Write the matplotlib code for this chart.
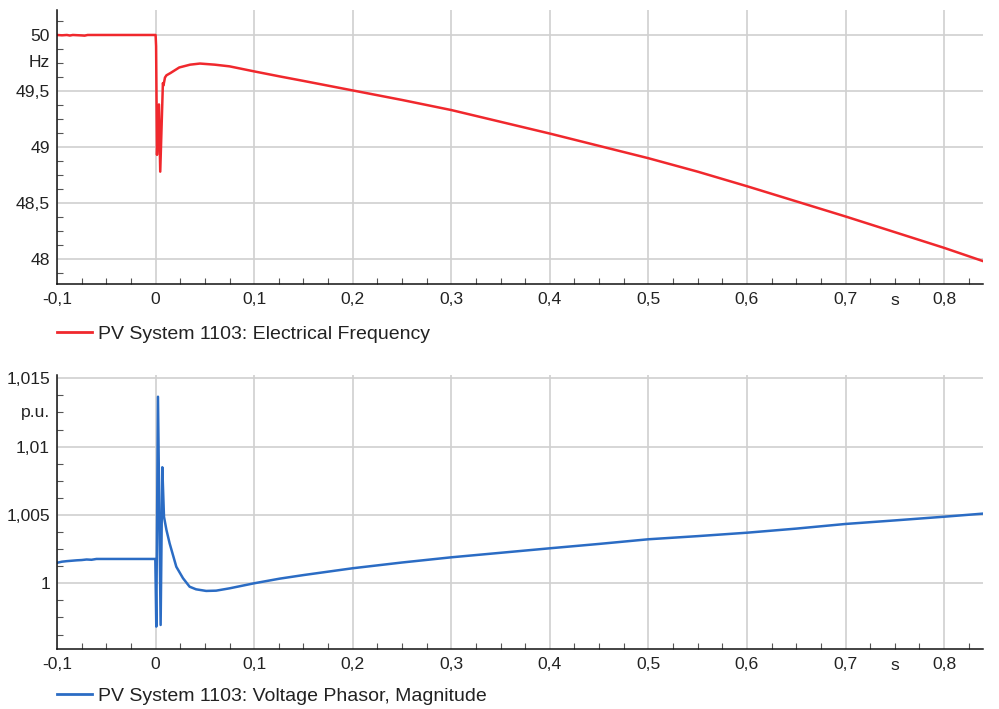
import matplotlib
matplotlib.use("Agg")
import matplotlib.pyplot as plt
from matplotlib.ticker import MultipleLocator, FuncFormatter
from matplotlib.lines import Line2D
from matplotlib.transforms import offset_copy

plt.rcParams["font.family"] = ["Liberation Sans", "DejaVu Sans"]

# PV System 1103: electrical frequency (Hz)
t_freq = [-0.1, -0.095, -0.09, -0.087, -0.084, -0.075, -0.072, -0.069, -0.06,
          -0.04, -0.02, 0.0, 0.0005, 0.0014, 0.0034, 0.0047, 0.0074, 0.008,
          0.0095, 0.011, 0.015, 0.024, 0.035, 0.045, 0.06, 0.075, 0.1, 0.126,
          0.15, 0.2, 0.25, 0.3, 0.35, 0.4, 0.45, 0.5, 0.55, 0.6, 0.65, 0.7,
          0.75, 0.8, 0.84]
freq = [50.0, 49.997, 50.0, 49.995, 50.0, 49.996, 49.994, 50.0, 50.0,
        50.0, 50.0, 50.0, 49.9, 48.93, 49.38, 48.78, 49.57, 49.55,
        49.62, 49.64, 49.66, 49.71, 49.735, 49.745, 49.735, 49.72, 49.675, 49.63,
        49.59, 49.505, 49.42, 49.33, 49.225, 49.12, 49.01, 48.90, 48.78, 48.65,
        48.515, 48.38, 48.24, 48.10, 47.98]

# PV System 1103: voltage phasor magnitude (p.u.)
t_volt = [-0.1, -0.095, -0.09, -0.085, -0.08, -0.075, -0.07, -0.065, -0.06,
          -0.04, -0.02, -0.0003, 0.0007, 0.0024, 0.0051, 0.0068, 0.0085, 0.011,
          0.0142, 0.021, 0.0278, 0.0345, 0.041, 0.0513, 0.0614, 0.075, 0.1,
          0.126, 0.15, 0.2, 0.25, 0.3, 0.35, 0.4, 0.45, 0.5, 0.55, 0.6, 0.65,
          0.7, 0.75, 0.8, 0.84]
volt = [1.0015, 1.00158, 1.00162, 1.00165, 1.00168, 1.0017, 1.00174, 1.00172, 1.00178,
        1.00178, 1.00178, 1.00178, 0.99683, 1.01365, 0.99695, 1.00849, 1.00487, 1.0039,
        1.00293, 1.00121, 1.00037, 0.99975, 0.99956, 0.99944, 0.99946, 0.99963, 1.0,
        1.00034, 1.0006, 1.0011, 1.00152, 1.0019, 1.00223, 1.00256, 1.00288, 1.00322, 1.00345,
        1.0037, 1.004, 1.00434, 1.0046, 1.00487, 1.0051]

TEXT = "#222222"
GRID = "#d0d0d0"
RED = "#f0282d"
BLUE = "#2b6cc4"
TICK_FS = 12.6
LEGEND_FS = 14


def comma(v, _):
    s = f"{v:.3f}".rstrip("0").rstrip(".")
    return s.replace(".", ",")


def style_axes(ax, ymajor, yminor, unit_y, unit_label):
    ax.set_xlim(-0.1, 0.8396)
    for side in ("top", "right"):
        ax.spines[side].set_visible(False)
    for side in ("left", "bottom"):
        ax.spines[side].set_linewidth(1.1)
        ax.spines[side].set_color("#111111")
    ax.xaxis.set_major_locator(MultipleLocator(0.1))
    ax.xaxis.set_minor_locator(MultipleLocator(0.025))
    ax.yaxis.set_major_locator(MultipleLocator(ymajor))
    ax.yaxis.set_minor_locator(MultipleLocator(yminor))
    ax.xaxis.set_major_formatter(FuncFormatter(comma))
    ax.yaxis.set_major_formatter(FuncFormatter(comma))
    ax.tick_params(which="major", length=0, labelsize=TICK_FS, labelcolor=TEXT)
    ax.tick_params(axis="x", which="major", pad=5.5)
    ax.tick_params(axis="y", which="major", pad=5)
    ax.tick_params(which="minor", direction="in", length=4, width=0.8, color="#555555")
    ax.grid(True, which="major", color=GRID, linewidth=1.2)
    ax.set_axisbelow(True)
    # unit labels sit where a tick label would be
    xtr = offset_copy(ax.get_xaxis_transform(), fig=ax.figure, y=-6.5, units="points")
    ax.text(0.75, 0, "s", transform=xtr, ha="center", va="top",
            fontsize=TICK_FS, color=TEXT)
    ytr = offset_copy(ax.get_yaxis_transform(), fig=ax.figure, x=-5, units="points")
    ax.text(0, unit_y, unit_label, transform=ytr, ha="right", va="center",
            fontsize=TICK_FS, color=TEXT)


fig = plt.figure(figsize=(9.99, 7.09), dpi=100)
ax1 = fig.add_axes([0.0571, 0.5994, 0.927, 0.3865])
ax2 = fig.add_axes([0.0571, 0.0846, 0.927, 0.3865])

ax1.plot(t_freq, freq, color=RED, linewidth=1.8, solid_joinstyle="round")
ax1.set_ylim(47.777, 50.223)
style_axes(ax1, 0.5, 0.125, 49.75, "Hz")

ax2.plot(t_volt, volt, color=BLUE, linewidth=1.8, solid_joinstyle="round")
ax2.set_ylim(0.99519, 1.01524)
style_axes(ax2, 0.005, 0.00125, 1.0125, "p.u.")

for ax, color, label, ypos in [
    (ax1, RED, "PV System 1103: Electrical Frequency", 1 - 334 / 709),
    (ax2, BLUE, "PV System 1103: Voltage Phasor, Magnitude", 1 - 696 / 709),
]:
    handle = Line2D([], [], color=color, linewidth=2)
    ax.legend([handle], [label], loc="center left", bbox_to_anchor=(0.0571, ypos),
              bbox_transform=fig.transFigure, frameon=False, fontsize=LEGEND_FS,
              handlelength=1.8, handletextpad=0.3, borderpad=0, borderaxespad=0,
              labelcolor=TEXT)

fig.savefig("out.png", dpi=100)
